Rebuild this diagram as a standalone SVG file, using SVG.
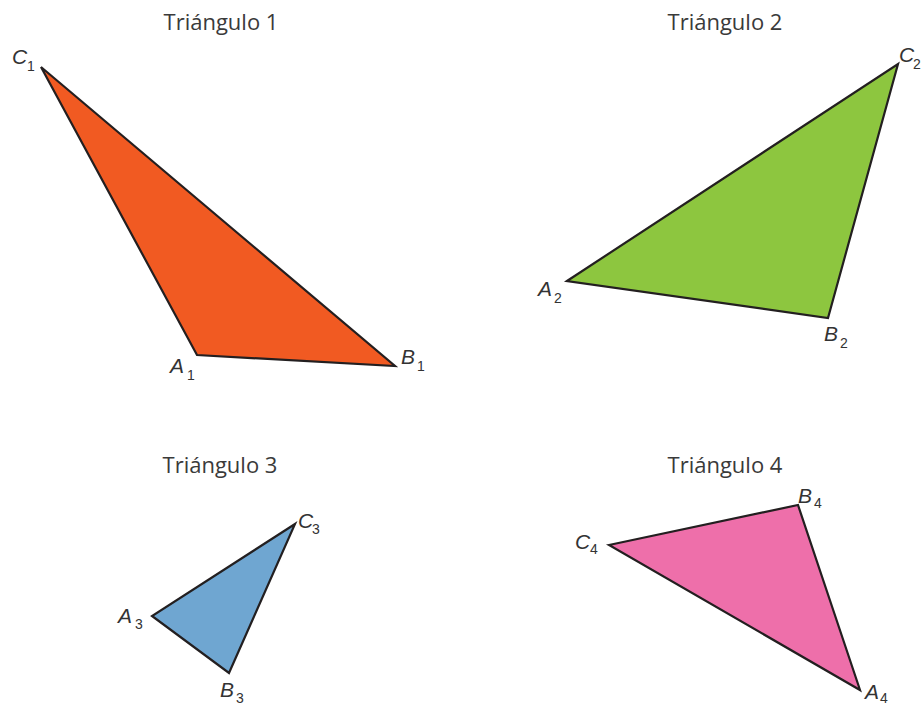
<svg xmlns="http://www.w3.org/2000/svg" width="921" height="707" viewBox="0 0 921 707">
<style>
.tri{stroke:#231f20;stroke-width:2.2;stroke-linejoin:miter}
.title{font-family:"Open Sans","DejaVu Sans",sans-serif;font-size:22px;fill:#3a3a3a;text-anchor:middle}
.lbl{font-family:"Liberation Sans",Arial,sans-serif;font-style:italic;font-size:21px;fill:#333}
.sub{font-family:"Liberation Sans",Arial,sans-serif;font-style:normal;font-size:14px;fill:#333}
</style>
<rect width="921" height="707" fill="#fff"/>
<g id="triangulo1">
<text class="title" x="221" y="30">Triángulo 1</text>
<polygon class="tri" fill="#f15a22" points="41,67 197,355 395,366"/>
<text class="lbl" x="12" y="64">C</text><text class="sub" x="27" y="71">1</text>
<text class="lbl" x="170" y="373">A</text><text class="sub" x="187" y="380">1</text>
<text class="lbl" x="401" y="364">B</text><text class="sub" x="417" y="371">1</text>
</g>
<g id="triangulo2">
<text class="title" x="725" y="30">Triángulo 2</text>
<polygon class="tri" fill="#8dc63f" points="567,281 898,64 828,318"/>
<text class="lbl" x="538" y="296">A</text><text class="sub" x="554" y="303">2</text>
<text class="lbl" x="899" y="62">C</text><text class="sub" x="913" y="69">2</text>
<text class="lbl" x="824" y="341">B</text><text class="sub" x="840" y="348">2</text>
</g>
<g id="triangulo3">
<text class="title" x="220" y="473">Triángulo 3</text>
<polygon class="tri" fill="#6fa6d1" points="295,524 152,616 229,673"/>
<text class="lbl" x="298" y="528">C</text><text class="sub" x="312" y="534">3</text>
<text class="lbl" x="118" y="623">A</text><text class="sub" x="135" y="629">3</text>
<text class="lbl" x="220" y="697">B</text><text class="sub" x="236" y="703">3</text>
</g>
<g id="triangulo4">
<text class="title" x="725" y="473">Triángulo 4</text>
<polygon class="tri" fill="#ee6faa" points="609,545 798,505 860,690"/>
<text class="lbl" x="575" y="549">C</text><text class="sub" x="590" y="554">4</text>
<text class="lbl" x="798" y="503">B</text><text class="sub" x="814" y="508">4</text>
<text class="lbl" x="865" y="699">A</text><text class="sub" x="880" y="703">4</text>
</g>
<g id="connectors"></g>
</svg>
